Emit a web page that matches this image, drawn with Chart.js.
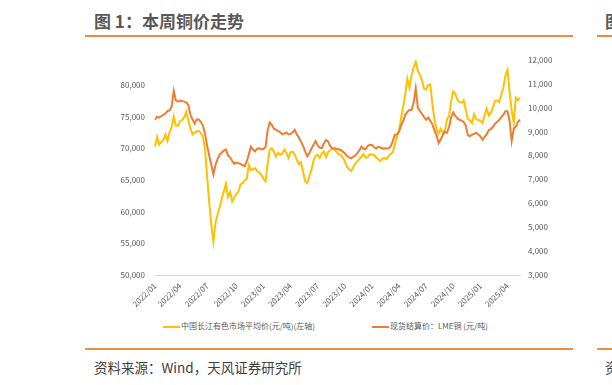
<!DOCTYPE html>
<html>
<head>
<meta charset="utf-8">
<script src="https://cdn.jsdelivr.net/npm/chart.js@4.4.1/dist/chart.umd.min.js"></script>
<style>
  body { margin: 0; background: #fff; font-family: 'Noto Sans CJK SC', 'Noto Sans', sans-serif; }
  #page { position: relative; width: 612px; height: 385px; overflow: hidden; }
  .title { position: absolute; left: 94px; top: 8px; font-size: 17px; font-weight: bold; color: #595959; white-space: nowrap; }
  .rule { position: absolute; height: 2px; background: #f08c40; }
  .source { position: absolute; left: 94px; top: 357px; font-size: 13.5px; color: #404040; white-space: nowrap; }
  .legend { position: absolute; top: 320px; font-size: 8px; color: #595959; white-space: nowrap; line-height: 12px; }
  .legend span.swatch { display: inline-block; width: 17px; height: 2px; vertical-align: middle; margin-right: 1px; }
  canvas { position: absolute; left: 100px; top: 45px; }
</style>
</head>
<body>
<div id="page">
  <div class="title">图 1：本周铜价走势</div>
  <div class="title" style="left:605px">图</div>
  <div class="rule" style="left:85px; top:35px; width:488px"></div>
  <div class="rule" style="left:597px; top:35px; width:15px"></div>

  <canvas id="copperChart" width="480" height="270"></canvas>

  <div class="legend" style="left:163px"><span class="swatch" style="background:#ffc000"></span>中国长江有色市场平均价(元/吨)(左轴)</div>
  <div class="legend" style="left:372px"><span class="swatch" style="background:#ed7d31"></span>现货结算价：LME铜 (元/吨)</div>

  <div class="rule" style="left:85px; top:348px; width:488px"></div>
  <div class="rule" style="left:597px; top:348px; width:15px"></div>
  <div class="source">资料来源：Wind，天风证券研究所</div>
  <div class="source" style="left:605px">资</div>
</div>

<script>
// weekly series, first week ends 2022/01/07, last 2025/05/16
const firstWeek = [2022, 0, 7];
const weekCount = 176;

// 中国长江有色市场平均价 (元/吨)
const changjiang = [
  70300, 71800, 70600, 71000, 71300, 72200, 71200, 72600, 73400, 75000,
  73600, 73600, 74300, 74500, 74900, 75800, 74400, 73200, 72200, 72500,
  72700, 72800, 72400, 71800, 69800, 65500, 61500, 58000, 55300, 58200,
  59600, 60700, 62000, 63200, 64400, 62300, 63100, 61600, 62200, 62800,
  63200, 64300, 64500, 64900, 65200, 67400, 66600, 66700, 66900, 66400,
  66200, 65800, 65200, 64800, 67500, 69800, 70000, 69500, 68700, 69300,
  69000, 69200, 69800, 69300, 68500, 69400, 69500, 69000, 68200, 67500,
  67800, 66300, 64800, 64500, 65600, 66600, 68100, 68800, 69000, 68500,
  69200, 69500, 68600, 69400, 69700, 70000, 69800, 69500, 69100, 68900,
  68600, 68000, 67100, 66700, 66400, 67000, 67600, 68000, 68300, 68700,
  69100, 68500, 68600, 69100, 69000, 69000, 68600, 68300, 68000, 68400,
  68500, 68300, 68800, 69100, 69400, 70600, 71900, 72800, 74800, 76600,
  78600, 81000, 79600, 81500, 82800, 83700, 82300, 81600, 80800, 79400,
  79300, 80000, 80100, 77000, 74600, 73000, 72400, 73100, 72400, 72800,
  74600, 75100, 77500, 79000, 78600, 77700, 77300, 77200, 77600, 76100,
  74700, 74400, 74000, 75400, 74600, 74500, 74400, 74000, 75200, 76300,
  75200, 75600, 76400, 77500, 77600, 77300, 78400, 79600, 81500, 82400,
  79000, 76000, 74000, 78000, 77600, 78000
];

// 现货结算价：LME铜, right axis
const lmeCopper = [
  9500, 9620, 9580, 9650, 9700, 9750, 9860, 9880, 10050, 10700,
  10300, 10250, 10300, 10280, 10250, 10220, 10100, 9700, 9500, 9330,
  9500, 9500, 9400, 9250, 8900, 8400, 8000, 7600, 7200, 7600,
  7850, 8040, 8120, 8200, 8250, 8000, 7920, 7780, 7650, 7700,
  7680, 7650, 7600, 7550, 7750, 8050, 8370, 8250, 8170, 8280,
  8300, 8250, 8270, 8350, 9050, 9380, 9280, 9120, 9080, 9020,
  8980, 8880, 8920, 8950, 8880, 8900, 8970, 9070, 8880, 8750,
  8580, 8400, 8170, 7960, 8100, 8280, 8450, 8600, 8420, 8330,
  8300, 8500, 8650, 8580, 8400, 8290, 8300, 8280, 8260, 8230,
  8160, 8090, 7990, 7920, 7880, 7940, 8000, 8100, 8220, 8370,
  8280, 8260, 8400, 8450, 8440, 8350, 8290, 8360, 8330, 8290,
  8300, 8290, 8300, 8380, 8600, 8870, 8880, 9000, 9250, 9450,
  9700, 9820, 9900, 9900, 10200, 10800, 10000, 9850, 9740, 9600,
  9490, 9580, 9450, 9300, 9050, 8850, 8520, 8680, 8850, 8980,
  8950, 9200, 9600, 9800, 9650, 9550, 9490, 9460, 9400, 9250,
  8850, 8800, 8870, 8900, 8950, 8880, 8800, 8660, 8780, 8880,
  9050, 9100, 9200, 9320, 9400, 9480, 9600, 9700, 9850, 9850,
  9450, 8600, 9120, 9200, 9400, 9490
];

const quarterTicks = ['2022/01', '2022/04', '2022/07', '2022/10', '2023/01', '2023/04', '2023/07',
  '2023/10', '2024/01', '2024/04', '2024/07', '2024/10', '2025/01', '2025/04'];
const leftTicks = [50000, 55000, 60000, 65000, 70000, 75000, 80000];
const rightTicks = [3000, 4000, 5000, 6000, 7000, 8000, 9000, 10000, 11000, 12000];

const pad = n => (n < 10 ? '0' : '') + n;
const weeks = [];
for (let i = 0; i < weekCount; i++) {
  const d = new Date(Date.UTC(firstWeek[0], firstWeek[1], firstWeek[2] + 7 * i));
  weeks.push(d.getUTCFullYear() + '/' + pad(d.getUTCMonth() + 1) + '/' + pad(d.getUTCDate()));
}

// first week of a quarter month gets the yyyy/mm label
function quarterLabel(label) {
  const ym = label.slice(0, 7);
  const day = +label.slice(8);
  return (day <= 7 && quarterTicks.includes(ym)) ? ym : null;
}

const tickFont = { family: "'Noto Sans CJK SC', 'Noto Sans', sans-serif", size: 8 };
const tickColor = '#595959';
const fmt = v => v.toLocaleString('en-US');

new Chart(document.getElementById('copperChart'), {
  type: 'line',
  data: {
    labels: weeks,
    datasets: [
      {
        label: '中国长江有色市场平均价(元/吨)(左轴)',
        data: changjiang,
        yAxisID: 'y',
        borderColor: '#ffc000',
        borderWidth: 2,
        order: 1
      },
      {
        label: '现货结算价：LME铜 (元/吨)',
        data: lmeCopper,
        yAxisID: 'y1',
        borderColor: '#ed7d31',
        borderWidth: 2,
        order: 0
      }
    ]
  },
  options: {
    responsive: false,
    animation: false,
    layout: { padding: { top: 12, left: 0, right: 0, bottom: 0 } },
    elements: { point: { radius: 0 }, line: { tension: 0 } },
    plugins: { legend: { display: false }, tooltip: { enabled: false } },
    scales: {
      x: {
        grid: { display: false, drawTicks: false },
        border: { display: true, color: '#d9d9d9', width: 1 },
        ticks: {
          autoSkip: false,
          minRotation: 45,
          maxRotation: 45,
          padding: 6,
          font: tickFont,
          color: tickColor,
          callback: function (value) { return quarterLabel(this.getLabelForValue(value)); }
        },
        afterFit: s => { s.height = 40; }
      },
      y: {
        position: 'left',
        min: 50000,
        max: 84000,
        grid: { display: false, drawTicks: false },
        border: { display: false },
        ticks: { padding: 10, font: tickFont, color: tickColor, callback: v => fmt(v) },
        afterBuildTicks: s => { s.ticks = leftTicks.map(v => ({ value: v })); },
        afterFit: s => { s.width = 55; }
      },
      y1: {
        position: 'right',
        min: 3000,
        max: 12000,
        grid: { display: false, drawTicks: false },
        border: { display: false },
        ticks: { padding: 8, font: tickFont, color: tickColor, callback: v => fmt(v) },
        afterBuildTicks: s => { s.ticks = rightTicks.map(v => ({ value: v })); },
        afterFit: s => { s.width = 60; }
      }
    }
  }
});
</script>
</body>
</html>
